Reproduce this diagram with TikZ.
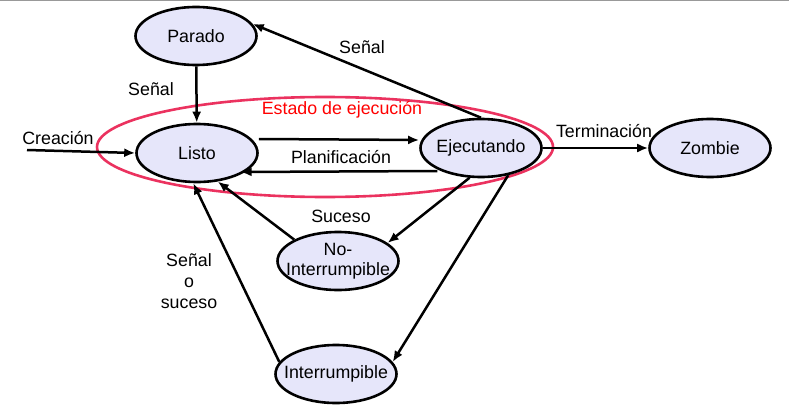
\documentclass[tikz,border=0pt]{standalone}
\usepackage{fontspec}
\setmainfont{Liberation Sans}
\usetikzlibrary{arrows.meta,shapes.geometric}
\definecolor{statefill}{RGB}{230,230,250}
\definecolor{ringred}{RGB}{235,50,95}
\begin{document}
\begin{tikzpicture}[x=1pt,y=-1pt,
  statetext/.style={font=\fontsize{17.8}{20}\selectfont,align=center,inner sep=0pt},
  state/.style={draw=black,line width=2.6pt,fill=statefill,ellipse,minimum width=121pt,minimum height=58pt,inner sep=0pt,label={[statetext]center:#1}},
  lbl/.style={font=\fontsize{17.8}{20}\selectfont,align=center,inner sep=0pt},
  trans/.style={draw=black,line width=2.5pt,-{Latex[length=11pt,width=9pt]}}]
\useasboundingbox (0,0) rectangle (789,417);
\draw[gray!80,line width=1.5pt] (0,0.75) -- (789,0.75);
\node[draw=ringred,line width=2.6pt,ellipse,minimum width=456pt,minimum height=100pt,inner sep=0pt] (ring) at (325,147) {};
\node[lbl,text=red] (ringlbl) at (342,110) {Estado de ejecución};
\node[state=Parado] (parado) at (196,36) {};
\node[state=Listo] (listo) at (197,153) {};
\node[state=Ejecutando] (ejec) at (481,148) {};
\node[state=Zombie] (zombie) at (710,148) {};
\node[state={No-\\Interrumpible}] (noint) at (338,261) {};
\node[state=Interrumpible] (inter) at (336,374) {};
\coordinate (start) at (27,150);
% edges
\draw[trans] (parado) -- (listo);
\node[lbl] (l1) at (151,89) {Señal};
\draw[trans] (start) -- (listo.west);
\node[lbl] (l2) at (58,138) {Creación};
\draw[trans] (listo.east |- 0,139) -- (ejec.west |- 0,140);
\draw[trans] (ejec.south west |- 0,171) -- (listo.south east |- 0,172);
\node[lbl] (l3) at (341,157) {Planificación};
\draw[trans] (ejec.north) -- (parado.12);
\node[lbl] (l4) at (362,47) {Señal};
\draw[trans] (ejec.east) -- (zombie.west);
\node[lbl] (l5) at (604,131) {Terminación};
\draw[trans] (ejec.-111) -- (noint.20);
\draw[trans] (noint.154) -- (listo.-54);
\node[lbl] (l6) at (341,216) {Suceso};
\draw[trans] (ejec.-45) -- (inter.12);
\draw[trans] (inter.168) -- (listo.-97);
\node[lbl,font=\fontsize{17.8}{21}\selectfont] (l7) at (189,281) {Señal\\o\\suceso};
\end{tikzpicture}
\end{document}
